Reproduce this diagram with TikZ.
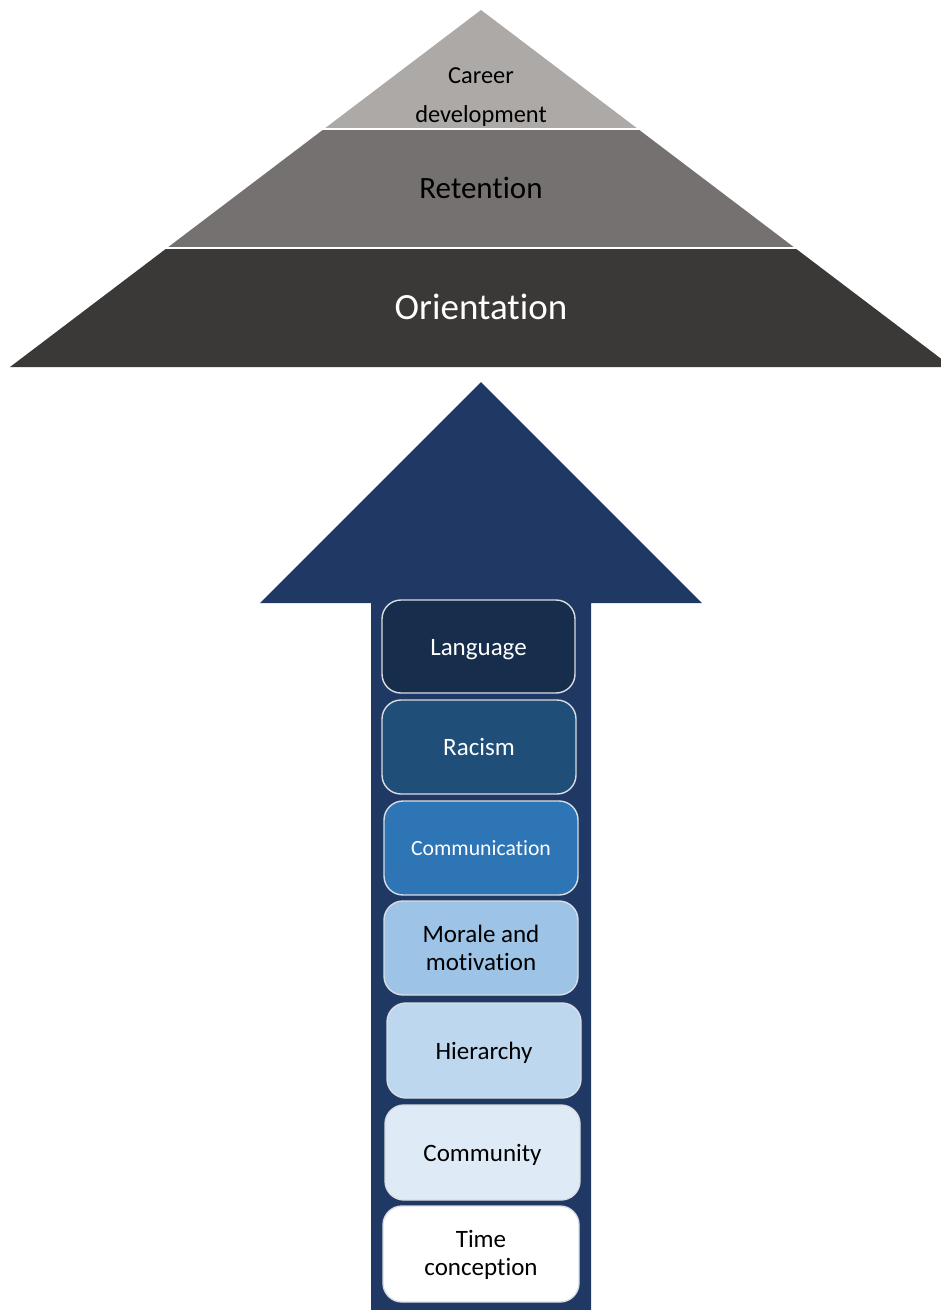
\documentclass[tikz,border=0pt]{standalone}
\usepackage{fontspec}
\setmainfont{Carlito}[Ligatures=NoCommon, RawFeature={-liga;-calt;-dlig}]
\definecolor{pyrTop}{HTML}{ADA9A7}
\definecolor{pyrMid}{HTML}{757170}
\definecolor{pyrBase}{HTML}{3B3937}
\definecolor{arrowNavy}{HTML}{203864}
\definecolor{boxEdge}{HTML}{DADDE3}
\definecolor{cLanguage}{HTML}{162E4B}
\definecolor{cRacism}{HTML}{1F4E79}
\definecolor{cCommunication}{HTML}{2E75B6}
\definecolor{cMorale}{HTML}{9DC3E6}
\definecolor{cHierarchy}{HTML}{BDD7EE}
\definecolor{cCommunity}{HTML}{DEEBF7}
\tikzset{
  factor/.style={draw=boxEdge, line width=1.4pt, rounded corners=19pt,
    minimum width=194pt, minimum height=94pt, inner sep=0pt},
  factortext/.style={align=center, font=\fontsize{25}{28}\selectfont},
  layerlabel/.style={align=center, inner sep=0pt}
}
\begin{document}
\begin{tikzpicture}[x=1pt, y=-1pt]
\useasboundingbox (0,0) rectangle (941,1310);
\clip (0,0) rectangle (941,1310);

% pyramid: three layers of one triangle with apex (481,10)
\fill[pyrTop]  (481,10) -- (638,129) -- (324,129) -- cycle;
\fill[pyrMid]  (324,129) -- (638,129) -- (795,248) -- (167,248) -- cycle;
\fill[pyrBase] (167,248) -- (795,248) -- (952,367) -- (10,367) -- cycle;
\draw[white, line width=2pt] (320,129) -- (642,129);
\draw[white, line width=2pt] (163,248) -- (799,248);

\node[layerlabel, font=\fontsize{24.4}{39}\selectfont] (career) at (481,97) {Career\\development};
\node[layerlabel, font=\fontsize{31}{36}\selectfont] (retention) at (481,188) {Retention};
\node[layerlabel, font=\fontsize{37}{42}\selectfont, text=white] (orientation) at (481,307) {Orientation};

% upward arrow
\fill[arrowNavy] (481,382) -- (702,603) -- (591,603) -- (591,1320)
  -- (371,1320) -- (371,603) -- (260,603) -- cycle;

% factor boxes on the arrow shaft
\node[factor, fill=cLanguage, minimum width=193pt, minimum height=93pt] (language) at (478.5,646.5) {};
\node[factortext, text=white] (languageText) at ([yshift=-3pt]language.center) {Language};
\node[factor, fill=cRacism] (racism) at (479,747) {};
\node[factortext, text=white] (racismText) at (racism.center) {Racism};
\node[factor, fill=cCommunication] (communication) at (481,848) {};
\node[factortext, text=white, font=\fontsize{21.7}{26}\selectfont] (communicationText) at (communication.center) {Communication};
\node[factor, fill=cMorale] (morale) at (481,948) {};
\node[factortext] (moraleText) at (morale.center) {Morale and\\motivation};
\node[factor, fill=cHierarchy, minimum height=95pt] (hierarchy) at (484,1050.5) {};
\node[factortext] (hierarchyText) at ([yshift=-2pt]hierarchy.center) {Hierarchy};
\node[factor, fill=cCommunity, minimum width=195pt, minimum height=95pt] (community) at (482.5,1152.5) {};
\node[factortext] (communityText) at ([yshift=-2pt]community.center) {Community};
\node[factor, fill=white, minimum width=196pt, minimum height=96pt] (timeconc) at (481,1254) {};
\node[factortext] (timeconcText) at ([yshift=-1pt]timeconc.center) {Time\\conception};
\end{tikzpicture}
\end{document}
